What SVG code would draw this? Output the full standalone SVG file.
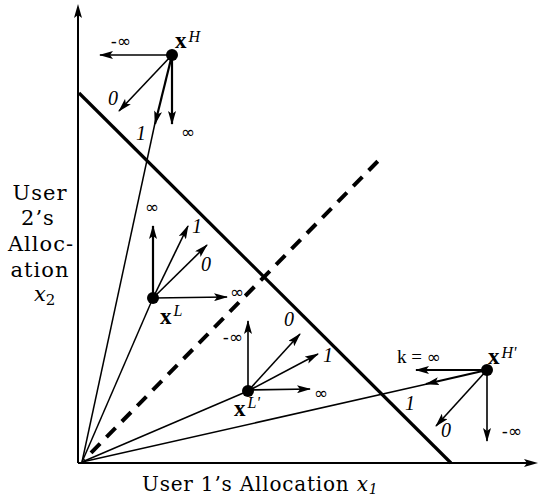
<svg xmlns="http://www.w3.org/2000/svg" width="539" height="498" viewBox="0 0 539 498">
<style>
.ax{stroke:#000;stroke-width:2;fill:none}
.budget{stroke:#000;stroke-width:3.2;fill:none}
.dash{stroke:#000;stroke-width:4;fill:none;stroke-dasharray:13 9;stroke-dashoffset:12}
.ray{stroke:#000;stroke-width:1.5;fill:none}
.arr{stroke:#000;stroke-width:1.6;fill:none;marker-end:url(#ah)}
.arrb{stroke:#000;stroke-width:2.2;fill:none;marker-end:url(#ah)}
.lab{font-family:"DejaVu Serif",serif;font-size:21px;letter-spacing:1px;text-anchor:middle;fill:#000}
.bl{font-family:"DejaVu Serif",serif;font-size:20px;letter-spacing:0.8px;fill:#000}
.num{font-family:"Liberation Serif",serif;font-style:italic;font-size:20px;fill:#000;text-anchor:middle}
.inf{font-family:"DejaVu Sans",sans-serif;font-size:17px;fill:#000;text-anchor:middle}
.px{font-family:"Liberation Serif",serif;font-weight:bold;font-size:23px;fill:#000}
.sup{font-family:"Liberation Serif",serif;font-style:italic;font-weight:normal;font-size:16px;fill:#000}
.dot{fill:#000}
</style>
<defs>
<marker id="ah" markerUnits="userSpaceOnUse" markerWidth="14" markerHeight="8" viewBox="0 0 14 8" refX="13" refY="4" orient="auto">
<path d="M0,0 L14,4 L0,8 L3,4 z" fill="#000"/>
</marker>
</defs>
<g id="axes">
<line class="ax" x1="78" y1="463" x2="78" y2="10"/>
<path d="M78,4 L74,18 L78,15 L82,18 z" fill="#000"/>
<line class="ax" x1="78" y1="463" x2="530" y2="463"/>
<path d="M538,463 L524,459 L527,463 L524,467 z" fill="#000"/>
</g>
<g id="connectors">
<line class="budget" x1="79" y1="93" x2="451" y2="463"/>
<line class="dash" x1="84" y1="460" x2="378" y2="161"/>
<line class="ray" x1="82" y1="462" x2="155" y2="123"/>
<line class="arrb" x1="172" y1="55" x2="155" y2="124"/>
<line class="ray" x1="82" y1="462" x2="153" y2="298"/>
<line class="ray" x1="82" y1="462" x2="248" y2="391"/>
<line class="ray" x1="82" y1="462" x2="427" y2="384"/>
<line class="arrb" x1="487" y1="370" x2="426" y2="384"/>
<line class="arr" x1="172" y1="55" x2="100" y2="55"/>
<line class="arr" x1="172" y1="55" x2="119" y2="111"/>
<line class="arrb" x1="172" y1="55" x2="172" y2="124"/>
<line class="arrb" x1="153" y1="298" x2="153" y2="226"/>
<line class="arr" x1="153" y1="298" x2="188" y2="226"/>
<line class="arr" x1="153" y1="298" x2="207" y2="245"/>
<line class="arr" x1="153" y1="298" x2="227" y2="297"/>
<line class="arr" x1="248" y1="391" x2="248" y2="321"/>
<line class="arr" x1="248" y1="391" x2="300" y2="334"/>
<line class="arr" x1="248" y1="391" x2="318" y2="354"/>
<line class="arr" x1="248" y1="390" x2="310" y2="389"/>
<line class="arrb" x1="487" y1="370" x2="416" y2="370"/>
<line class="arr" x1="487" y1="370" x2="436" y2="426"/>
<line class="arr" x1="487" y1="370" x2="487" y2="441"/>
</g>
<g id="xH">
<circle class="dot" cx="172" cy="55" r="6"/>
<text class="px" x="175" y="48">x<tspan class="sup" dx="2" dy="-6">H</tspan></text>
<text class="inf" x="121" y="47">-∞</text>
<text class="num" x="113" y="105">0</text>
<text class="num" x="141" y="140">1</text>
<text class="inf" x="188" y="138">∞</text>
</g>
<g id="xL">
<circle class="dot" cx="153" cy="298" r="6"/>
<text class="px" x="160" y="324">x<tspan class="sup" dx="2" dy="-8">L</tspan></text>
<text class="inf" x="152" y="213">∞</text>
<text class="num" x="197" y="233">1</text>
<text class="num" x="206" y="271">0</text>
<text class="inf" x="237" y="298">∞</text>
</g>
<g id="xLp">
<circle class="dot" cx="248" cy="391" r="6"/>
<text class="px" x="234" y="416">x<tspan class="sup" dx="2" dy="-8">L'</tspan></text>
<text class="inf" x="233" y="343">-∞</text>
<text class="num" x="289" y="326">0</text>
<text class="num" x="328" y="362">1</text>
<text class="inf" x="321" y="399">∞</text>
</g>
<g id="xHp">
<circle class="dot" cx="487" cy="370" r="6"/>
<text class="px" x="488" y="364">x<tspan class="sup" dx="2" dy="-6">H'</tspan></text>
<text x="397" y="363" style="font-family:'Liberation Serif',serif;font-size:19px;fill:#000">k = <tspan style="font-family:'DejaVu Sans',sans-serif;font-size:17px">∞</tspan></text>
<text class="num" x="410" y="410">1</text>
<text class="num" x="446" y="437">0</text>
<text class="inf" x="512" y="437">-∞</text>
</g>
<g id="labels">
<text class="lab" x="40" y="200">User</text>
<text class="lab" x="38" y="225">2’s</text>
<text class="lab" x="41" y="251">Alloc-</text>
<text class="lab" x="40" y="277">ation</text>
<text x="34" y="301" style="font-family:'DejaVu Serif',serif;font-style:italic;font-size:21px;fill:#000">x<tspan dy="4" font-size="15" font-style="normal">2</tspan></text>
<text class="bl" x="142" y="491">User 1’s Allocation <tspan font-style="italic">x</tspan><tspan dy="3" font-size="14" font-style="italic">1</tspan></text>
</g>
</svg>
